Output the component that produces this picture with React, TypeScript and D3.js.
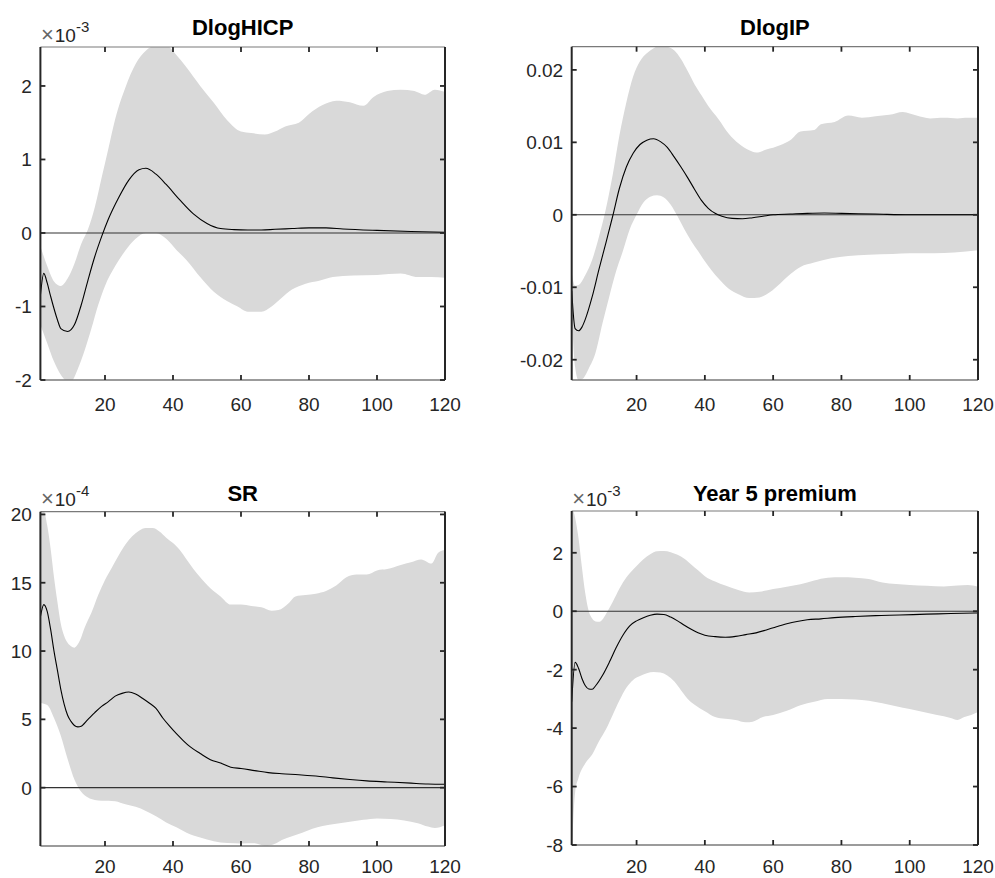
import React from 'react';
import * as d3 from 'd3';

type Pt = [number, number];

// ---------- data (values in the units shown on each axis; exponent noted) ----------
const titles = ['DlogHICP', 'DlogIP', 'SR', 'Year 5 premium'];
const exponents: (string | null)[] = ['-3', null, '-4', '-3'];
const xTicks = [20, 40, 60, 80, 100, 120];

const hicpTicks = [-2, -1, 0, 1, 2];
const ipTicks = [-0.02, -0.01, 0, 0.01, 0.02];
const ipTickLabels = ['-0.02', '-0.01', '0', '0.01', '0.02'];
const srTicks = [0, 5, 10, 15, 20];
const premTicks = [-8, -6, -4, -2, 0, 2];

// DlogHICP (x 1e-3)
const hicpMean: Pt[] = [[1,-0.85],[2,-0.55],[3,-0.68],[4,-0.86],[6,-1.18],[7,-1.3],[9,-1.34],[11,-1.25],[13,-0.98],[15,-0.64],[17,-0.32],[19,-0.05],[21,0.19],[24,0.48],[27,0.72],[30,0.86],[32,0.88],[35,0.8],[38,0.66],[42,0.45],[46,0.26],[50,0.13],[54,0.06],[58,0.045],[62,0.04],[66,0.04],[70,0.05],[75,0.06],[80,0.07],[85,0.07],[90,0.055],[100,0.035],[110,0.02],[120,0.01]];
const hicpUpper: Pt[] = [[1,-0.18],[3,-0.45],[5,-0.66],[7,-0.72],[9,-0.62],[11,-0.42],[13,-0.15],[15,0.05],[17,0.35],[19,0.75],[21,1.15],[23,1.55],[26,1.98],[29,2.3],[32,2.48],[35,2.55],[38,2.55],[41,2.42],[44,2.25],[48,2.0],[52,1.77],[56,1.53],[60,1.38],[63,1.36],[67,1.34],[70,1.38],[73,1.45],[77,1.5],[80,1.62],[84,1.74],[88,1.8],[92,1.78],[96,1.73],[99,1.85],[103,1.93],[107,1.95],[111,1.93],[114,1.88],[117,1.95],[120,1.92]];
const hicpLower: Pt[] = [[1,-1.25],[3,-1.5],[5,-1.75],[7,-1.93],[9,-2.02],[10,-2.02],[12,-1.85],[14,-1.6],[16,-1.3],[18,-0.98],[20,-0.72],[23,-0.45],[26,-0.24],[29,-0.08],[32,0],[35,0],[38,-0.08],[41,-0.23],[44,-0.37],[48,-0.6],[52,-0.8],[56,-0.93],[59,-1.0],[62,-1.07],[66,-1.07],[69,-1.0],[72,-0.88],[75,-0.77],[79,-0.69],[83,-0.65],[87,-0.6],[93,-0.58],[100,-0.57],[107,-0.55],[112,-0.6],[116,-0.6],[120,-0.61]];

// DlogIP (actual units)
const ipMean: Pt[] = [[1,-0.0105],[2,-0.0157],[3,-0.016],[4,-0.0155],[5,-0.0144],[7,-0.0113],[9,-0.0075],[11,-0.0039],[13,-0.0002],[15,0.0037],[17,0.0066],[19,0.0085],[21,0.0097],[23,0.0103],[25,0.0105],[27,0.0101],[29,0.0093],[31,0.008],[33,0.0066],[35,0.0051],[37,0.0035],[39,0.002],[41,0.0009],[43,0.0002],[45,-0.0002],[48,-0.0005],[51,-0.00055],[54,-0.0004],[57,-0.0002],[60,0],[65,0.0001],[70,0.0002],[75,0.00025],[80,0.0002],[90,0.0001],[100,0],[120,0]];
const ipUpper: Pt[] = [[1,-0.008],[2,-0.0098],[3,-0.0097],[5,-0.0083],[7,-0.0062],[9,-0.003],[11,0.0008],[13,0.0055],[15,0.011],[17,0.0155],[19,0.0191],[21,0.0212],[23,0.0223],[25,0.023],[27,0.0233],[29,0.0232],[31,0.0227],[33,0.0215],[35,0.0198],[37,0.018],[39,0.0165],[41,0.015],[44,0.0132],[47,0.0112],[50,0.0098],[53,0.0089],[55,0.0086],[58,0.009],[62,0.0096],[65,0.0103],[68,0.0115],[72,0.0117],[74,0.0125],[78,0.0128],[82,0.0137],[86,0.0134],[90,0.0136],[94,0.0138],[98,0.0142],[102,0.0137],[106,0.0133],[110,0.0134],[114,0.0133],[117,0.0134],[120,0.0134]];
const ipLower: Pt[] = [[1,-0.0135],[2,-0.021],[3,-0.0228],[4,-0.0227],[6,-0.0212],[8,-0.019],[10,-0.015],[12,-0.0113],[14,-0.0078],[16,-0.005],[18,-0.002],[20,0],[22,0.0017],[24,0.0025],[26,0.0027],[28,0.0024],[30,0.0014],[32,-0.0002],[34,-0.002],[36,-0.0036],[38,-0.005],[40,-0.0064],[42,-0.0077],[44,-0.0088],[47,-0.0102],[50,-0.011],[53,-0.0115],[56,-0.0114],[59,-0.0107],[62,-0.0095],[65,-0.0082],[68,-0.0072],[72,-0.0066],[77,-0.006],[82,-0.0057],[88,-0.0055],[95,-0.0054],[100,-0.0053],[107,-0.0053],[113,-0.0052],[120,-0.0049]];

// SR (x 1e-4)
const srMean: Pt[] = [[1,12.5],[2,13.4],[3,12.9],[4,11.6],[5,10.0],[6,8.6],[7,7.2],[8,6.1],[9,5.3],[10,4.85],[11,4.55],[12,4.45],[13,4.5],[15,5.0],[17,5.5],[19,5.95],[21,6.3],[23,6.7],[25,6.9],[27,7.0],[29,6.85],[31,6.55],[33,6.2],[35,5.8],[37,5.1],[39,4.5],[41,3.95],[43,3.45],[45,3.0],[48,2.5],[51,2.05],[54,1.8],[57,1.5],[60,1.4],[64,1.25],[68,1.1],[72,1.02],[77,0.95],[82,0.85],[87,0.72],[92,0.6],[97,0.5],[103,0.42],[110,0.33],[115,0.27],[120,0.25]];
const srUpper: Pt[] = [[1,20.5],[2,20.3],[3,19.2],[4,17.5],[5,15.4],[6,13.6],[7,12.0],[8,11.1],[9,10.6],[10,10.35],[11,10.25],[12,10.5],[13,11.0],[14,11.7],[16,12.8],[18,14.1],[20,15.2],[22,16.1],[24,17.0],[26,17.8],[28,18.4],[30,18.8],[32,19.0],[34,19.0],[36,18.75],[38,18.3],[40,17.9],[42,17.4],[44,16.7],[46,16.0],[48,15.4],[51,14.6],[54,14.0],[57,13.4],[60,13.4],[63,13.3],[66,13.2],[69,12.95],[71,13.0],[74,13.5],[76,14.0],[79,14.1],[82,14.2],[85,14.4],[88,14.8],[91,15.4],[94,15.6],[97,15.6],[100,15.9],[103,16.0],[107,16.3],[110,16.5],[113,16.7],[116,16.4],[118,17.2],[120,17.4]];
const srLower: Pt[] = [[1,6.2],[3,6.05],[5,5.1],[7,3.8],[9,2.1],[11,0.6],[13,-0.3],[15,-0.72],[17,-0.9],[19,-0.95],[21,-0.95],[23,-1.0],[26,-1.22],[29,-1.4],[32,-1.7],[35,-2.1],[38,-2.55],[41,-2.9],[44,-3.3],[48,-3.65],[52,-3.92],[56,-4.05],[60,-4.08],[64,-4.07],[67,-4.25],[70,-4.1],[72,-3.83],[75,-3.55],[78,-3.3],[81,-3.0],[84,-2.8],[88,-2.65],[92,-2.5],[96,-2.35],[100,-2.25],[104,-2.3],[108,-2.4],[112,-2.6],[115,-2.85],[117,-2.95],[120,-2.75]];

// Year 5 premium (x 1e-3)
const premMean: Pt[] = [[1,-3.1],[2,-1.75],[3,-1.95],[4,-2.3],[5,-2.55],[6,-2.66],[7,-2.67],[8,-2.55],[10,-2.2],[12,-1.75],[14,-1.25],[16,-0.82],[18,-0.5],[20,-0.33],[22,-0.22],[24,-0.14],[26,-0.1],[28,-0.11],[30,-0.2],[32,-0.33],[34,-0.48],[36,-0.62],[38,-0.74],[40,-0.82],[43,-0.87],[46,-0.89],[49,-0.86],[52,-0.8],[55,-0.74],[58,-0.64],[61,-0.53],[64,-0.43],[67,-0.35],[70,-0.29],[74,-0.26],[78,-0.22],[84,-0.18],[90,-0.15],[97,-0.13],[105,-0.1],[112,-0.08],[120,-0.06]];
const premUpper: Pt[] = [[1,3.6],[2,3.2],[3,2.5],[4,1.5],[5,0.6],[6,0.0],[7,-0.25],[8,-0.35],[9,-0.36],[10,-0.28],[11,-0.1],[12,0.1],[14,0.55],[16,0.98],[18,1.3],[20,1.55],[22,1.78],[24,1.95],[26,2.05],[28,2.06],[30,2.02],[32,1.93],[34,1.8],[36,1.6],[38,1.4],[40,1.2],[43,1.02],[46,0.88],[50,0.72],[53,0.64],[56,0.67],[60,0.76],[64,0.84],[68,0.92],[72,1.05],[76,1.15],[80,1.16],[84,1.15],[88,1.1],[92,0.98],[96,0.93],[100,0.9],[105,0.87],[110,0.85],[114,0.88],[117,0.9],[120,0.84]];
const premLower: Pt[] = [[1,-8.5],[2,-6.2],[3,-5.7],[5,-5.2],[7,-4.9],[9,-4.45],[11,-4.05],[13,-3.55],[15,-3.05],[17,-2.62],[19,-2.35],[21,-2.22],[23,-2.12],[25,-2.08],[27,-2.1],[29,-2.2],[31,-2.4],[33,-2.7],[35,-3.0],[37,-3.2],[40,-3.42],[43,-3.62],[46,-3.68],[49,-3.72],[52,-3.8],[54,-3.78],[57,-3.62],[60,-3.55],[64,-3.41],[68,-3.22],[72,-3.1],[76,-3.0],[80,-3.0],[84,-3.02],[88,-3.06],[92,-3.15],[96,-3.25],[100,-3.35],[104,-3.45],[108,-3.55],[112,-3.65],[114,-3.72],[116,-3.62],[118,-3.55],[120,-3.45]];

// ---------- layout ----------
const FONT = '"Liberation Sans", Arial, Helvetica, sans-serif';
const AX = '#262626';
const AX_LIGHT = '#7a7a7a';
const BAND = '#d9d9d9';

interface PanelSpec {
  title: string;
  exponent: string | null;
  mean: Pt[];
  upper: Pt[];
  lower: Pt[];
  yDomain: [number, number];
  yTicks: number[];
  yLabels: string[];
  box: { left: number; right: number; top: number; bottom: number };
  titleY: number;
  xLabelDy: number;
}

const panels: PanelSpec[] = [
  { title: titles[0], exponent: exponents[0], mean: hicpMean, upper: hicpUpper, lower: hicpLower,
    yDomain: [-2, 2.53], yTicks: hicpTicks, yLabels: hicpTicks.map(String),
    box: { left: 40.4, right: 445, top: 47, bottom: 380 }, titleY: 35, xLabelDy: 31 },
  { title: titles[1], exponent: exponents[1], mean: ipMean, upper: ipUpper, lower: ipLower,
    yDomain: [-0.0228, 0.0232], yTicks: ipTicks, yLabels: ipTickLabels,
    box: { left: 571.7, right: 978, top: 46.7, bottom: 380 }, titleY: 35, xLabelDy: 31 },
  { title: titles[2], exponent: exponents[2], mean: srMean, upper: srUpper, lower: srLower,
    yDomain: [-4.27, 20.2], yTicks: srTicks, yLabels: srTicks.map(String),
    box: { left: 40.4, right: 445, top: 511.7, bottom: 846 }, titleY: 501, xLabelDy: 27 },
  { title: titles[3], exponent: exponents[3], mean: premMean, upper: premUpper, lower: premLower,
    yDomain: [-8, 3.43], yTicks: premTicks, yLabels: premTicks.map(String),
    box: { left: 571.7, right: 978, top: 511, bottom: 845 }, titleY: 501, xLabelDy: 28 },
];

function Panel({ p, idx }: { p: PanelSpec; idx: number }) {
  const { left, right, top, bottom } = p.box;
  const x = d3.scaleLinear().domain([1, 120]).range([left, right]);
  const y = d3.scaleLinear().domain(p.yDomain).range([bottom, top]);
  const line = d3.line<Pt>().x(d => x(d[0])).y(d => y(d[1])).curve(d3.curveMonotoneX);
  const up = line(p.upper) || '';
  const lo = (line([...p.lower].reverse()) || '').replace(/^M/, 'L');
  const band = up + lo + 'Z';
  const clipId = `clip-${idx}`;
  const tk = 5;
  return (
    <g>
      <defs>
        <clipPath id={clipId}>
          <rect x={left} y={top} width={right - left} height={bottom - top} />
        </clipPath>
      </defs>
      <g clipPath={`url(#${clipId})`}>
        <path d={band} fill={BAND} stroke="none" />
        <line x1={left} x2={right} y1={y(0)} y2={y(0)} stroke="#333" strokeWidth={1.1} />
        <path d={line(p.mean) || ''} fill="none" stroke="#000" strokeWidth={1.1} />
      </g>
      {/* box: top/bottom lighter, left/right heavier */}
      <line x1={left} x2={right} y1={top} y2={top} stroke={AX_LIGHT} strokeWidth={1.2} />
      <line x1={left} x2={right} y1={bottom} y2={bottom} stroke={AX_LIGHT} strokeWidth={1.4} />
      <line x1={left} x2={left} y1={top} y2={bottom} stroke={AX} strokeWidth={2} />
      <line x1={right} x2={right} y1={top} y2={bottom} stroke={AX} strokeWidth={2} />
      {/* x ticks */}
      {xTicks.map(t => (
        <g key={'x' + t}>
          <line x1={x(t)} x2={x(t)} y1={bottom} y2={bottom - tk} stroke={AX} strokeWidth={1.8} />
          <line x1={x(t)} x2={x(t)} y1={top} y2={top + tk} stroke={AX} strokeWidth={1.8} />
          <text x={x(t)} y={bottom + p.xLabelDy} textAnchor="middle" fontSize={19} fill={AX} fontFamily={FONT}>{t}</text>
        </g>
      ))}
      {/* y ticks */}
      {p.yTicks.map((t, i) => (
        <g key={'y' + t}>
          <line x1={left} x2={left + tk} y1={y(t)} y2={y(t)} stroke={AX} strokeWidth={1.8} />
          <line x1={right} x2={right - tk} y1={y(t)} y2={y(t)} stroke={AX} strokeWidth={1.8} />
          <text x={left - 8.5} y={y(t)} dy="0.36em" textAnchor="end" fontSize={19} fill={AX} fontFamily={FONT}>{p.yLabels[i]}</text>
        </g>
      ))}
      {/* title */}
      <text x={(left + right) / 2} y={p.titleY} textAnchor="middle" fontSize={22} fontWeight="bold" fill="#000" fontFamily={FONT}>{p.title}</text>
      {p.exponent && (
        <text x={left + 0.5} y={top - 5.5} fontSize={19} fill={AX} fontFamily={FONT}>
          <tspan fontSize={22} fill="#666" fontWeight={300}>×</tspan>
          <tspan dx={1}>10</tspan>
          <tspan fontSize={15} dy={-10}>{p.exponent}</tspan>
        </text>
      )}
    </g>
  );
}

export default function App() {
  return (
    <svg width={995} height={878} style={{ position: 'absolute', left: 0, top: 0, background: '#fff' }}>
      <rect x={0} y={0} width={995} height={878} fill="#fff" />
      {panels.map((p, i) => <Panel key={i} p={p} idx={i} />)}
    </svg>
  );
}
